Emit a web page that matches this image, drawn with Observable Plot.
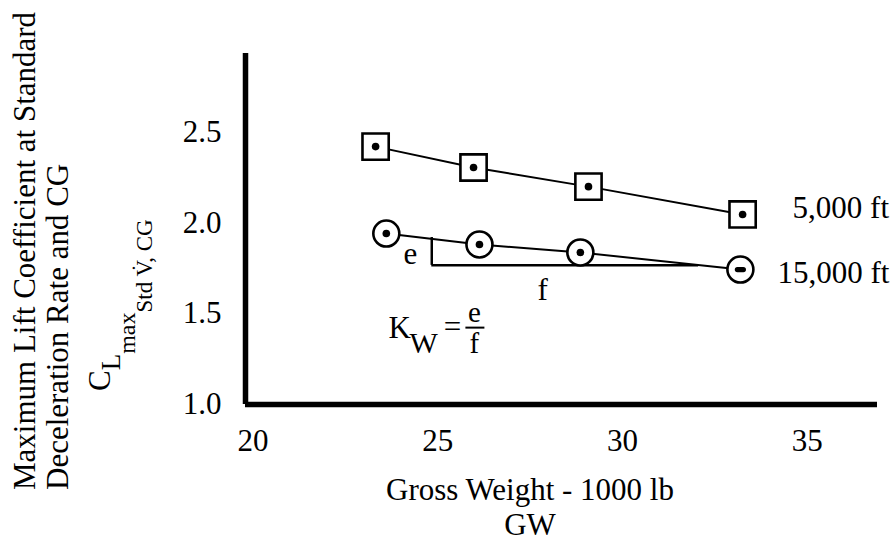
<!DOCTYPE html>
<html><head><meta charset="utf-8">
<script src="https://cdn.jsdelivr.net/npm/d3@7"></script>
<script src="https://cdn.jsdelivr.net/npm/@observablehq/plot@0.6"></script>
<style>
body{margin:0;background:#fff}
#chart svg{display:block}
</style></head><body><div id="chart"></div>
<script>
// ---- data ----
const altitudes = ["5,000 ft", "15,000 ft"];
const gw5000 = [23.32, 25.97, 29.08, 33.25];
const cl5000 = [2.418, 2.303, 2.198, 2.045];
const gw15000 = [23.61, 26.13, 28.86, 33.19];
const cl15000 = [1.940, 1.880, 1.836, 1.742];
const xTicks = [20, 25, 30, 35];
const yTicks = [1.0, 1.5, 2.0, 2.5];
const slopeX = [24.84, 32.06];   // legs of the e / f slope triangle
const slopeY = [1.918, 1.765];
const kwAt = [23.68, 1.42];      // anchor of the K_W = e/f note
const xTitle = ["Gross Weight - 1000 lb", "GW"];
const yTitle = ["Maximum Lift Coefficient at Standard", "Deceleration Rate and CG"];

const FONT = "'Liberation Serif', 'Times New Roman', serif";
const sq = gw5000.map((x, i) => ({x, y: cl5000[i]}));
const ci = gw15000.map((x, i) => ({x, y: cl15000[i]}));

// a small horizontal dash (inner mark of the last 15,000 ft circle)
const dash = {draw(ctx, size) {
  const h = 2.6, a = 3;
  ctx.moveTo(-a, -h); ctx.lineTo(a, -h);
  ctx.arc(a, 0, h, -Math.PI / 2, Math.PI / 2);
  ctx.lineTo(-a, h);
  ctx.arc(-a, 0, h, Math.PI / 2, 3 * Math.PI / 2);
  ctx.closePath();
}};

const chart = Plot.plot({
  width: 896, height: 542,
  marginLeft: 245, marginRight: 19, marginTop: 53, marginBottom: 138,
  style: {fontFamily: FONT, fontSize: "31px", background: "#fff", color: "#000", overflow: "visible"},
  x: {domain: [19.8, 36.9]},
  y: {domain: [1.0, 2.93]},
  marks: [
    Plot.axisX(xTicks, {tickSize: 0, tickPadding: 24, label: null, fontSize: 31, tickFormat: d => d}),
    Plot.axisY(yTicks, {tickSize: 0, tickPadding: 24, label: null, fontSize: 31, tickFormat: d3.format(".1f")}),
    Plot.ruleX([19.8], {y1: 1.0, y2: 2.93, stroke: "#000", strokeWidth: 5.5}),
    Plot.ruleY([1.0], {x1: 19.8, x2: 36.9, stroke: "#000", strokeWidth: 5.5}),
    Plot.line(sq, {x: "x", y: "y", stroke: "#000", strokeWidth: 2}),
    Plot.line(ci, {x: "x", y: "y", stroke: "#000", strokeWidth: 2}),
    Plot.ruleX([slopeX[0]], {y1: slopeY[0], y2: slopeY[1], stroke: "#000", strokeWidth: 2.5}),
    Plot.ruleY([slopeY[1]], {x1: slopeX[0], x2: slopeX[1], stroke: "#000", strokeWidth: 2.5}),
    Plot.dot(sq, {x: "x", y: "y", symbol: "square", r: 14.8, fill: "#fff", stroke: "#000", strokeWidth: 2.6}),
    Plot.dot(sq, {x: "x", y: "y", r: 3.8, fill: "#000"}),
    Plot.dot(ci, {x: "x", y: "y", symbol: "circle", r: 13, fill: "#fff", stroke: "#000", strokeWidth: 2.6}),
    Plot.dot(ci.slice(0, -1), {x: "x", y: "y", r: 3.8, fill: "#000"}),
    Plot.dot(ci.slice(-1), {x: "x", y: "y", symbol: dash, r: 4, fill: "#000"}),
    Plot.text(sq.slice(-1), {x: "x", y: "y", text: () => altitudes[0], textAnchor: "start", dx: 50, dy: -6, fontSize: 31}),
    Plot.text(ci.slice(-1), {x: "x", y: "y", text: () => altitudes[1], textAnchor: "start", dx: 37, dy: 4, fontSize: 31})
  ]
});
document.getElementById("chart").append(chart);

// ---- annotations placed through the chart's own scales ----
const X = chart.scale("x"), Y = chart.scale("y");
const svg = d3.select(chart);
const g = svg.append("g").attr("font-family", FONT).attr("fill", "#000");

// e / f labels of the slope triangle
const vx = X.apply(slopeX[0]), hy = Y.apply(slopeY[1]), ty = Y.apply(slopeY[0]);
g.append("text").attr("x", vx - 21).attr("y", (ty + hy) / 2 + 13).attr("text-anchor", "middle").attr("font-size", 31).text("e");
g.append("text").attr("x", X.apply((slopeX[0] + slopeX[1]) / 2) - 22).attr("y", hy + 35).attr("text-anchor", "middle").attr("font-size", 31).text("f");

// K_W = e / f
const kx = X.apply(kwAt[0]), ky = Y.apply(kwAt[1]);
g.append("text").attr("x", kx).attr("y", ky + 10).attr("text-anchor", "start").attr("font-size", 31).text("K");
g.append("text").attr("x", kx + 21).attr("y", ky + 25).attr("text-anchor", "start").attr("font-size", 30).text("W");
g.append("text").attr("x", kx + 64).attr("y", ky + 9).attr("text-anchor", "middle").attr("font-size", 31).text("=");
g.append("text").attr("x", kx + 86).attr("y", ky - 6).attr("text-anchor", "middle").attr("font-size", 29).text("e");
g.append("line").attr("x1", kx + 77).attr("x2", kx + 96).attr("y1", ky).attr("y2", ky).attr("stroke", "#000").attr("stroke-width", 2);
g.append("text").attr("x", kx + 86).attr("y", ky + 25).attr("text-anchor", "middle").attr("font-size", 29).text("f");

// x title
const xc = (X.apply(19.8) + X.apply(36.9)) / 2 - 31;
g.append("text").attr("x", xc).attr("y", 500).attr("text-anchor", "middle").attr("font-size", 31).text(xTitle[0]);
g.append("text").attr("x", xc).attr("y", 535).attr("text-anchor", "middle").attr("font-size", 31).text(xTitle[1]);

// y title (rotated)
const yt = g.append("g").attr("text-anchor", "start");
yt.append("text").attr("transform", "translate(35,490) rotate(-90)").attr("font-size", 31).text(yTitle[0]);
yt.append("text").attr("transform", "translate(68,490) rotate(-90)").attr("font-size", 31).text(yTitle[1]);
const sym = yt.append("text").attr("transform", "translate(110,391) rotate(-90)").attr("font-size", 31);
sym.append("tspan").text("C");
sym.append("tspan").attr("font-size", 27).attr("dy", 10).text("L");
sym.append("tspan").attr("font-size", 24).attr("dy", 15).text("max");
sym.append("tspan").attr("font-size", 23).attr("dy", 17).text("Std V\u0307, CG");
</script></body></html>
